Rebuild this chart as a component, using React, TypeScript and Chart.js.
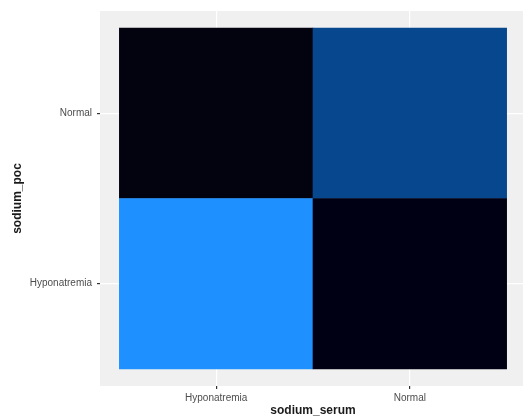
import React, { useEffect, useRef } from "react";
import { Chart, registerables } from "chart.js";

Chart.register(...registerables);

// Data
const serumCategories = ["Hyponatremia", "Normal"]; // x axis (sodium_serum)
const pocCategories = ["Hyponatremia", "Normal"]; // y axis (sodium_poc)
// cells: serum index, poc index, count
const cellSerum = [0, 1, 0, 1];
const cellPoc = [1, 1, 0, 0];
const cellCount = [1, 40, 95, 0];
// fill colour of each cell (from the reference gradient)
const cellColors = ["#030310", "#07478d", "#1e90ff", "#000015"];

const xTitle = "sodium_serum";
const yTitle = "sodium_poc";

const FONT = "'Liberation Sans', Arial, sans-serif";

export default function App() {
  const ref = useRef<HTMLCanvasElement | null>(null);

  useEffect(() => {
    if (!ref.current) return;
    const data = cellSerum.map((s, i) => ({
      x: s + 1,
      y: [cellPoc[i] + 0.5, cellPoc[i] + 1.5],
      count: cellCount[i],
    }));

    const panelBg = {
      id: "panelBg",
      beforeDraw(chart: any) {
        const { ctx, chartArea } = chart;
        ctx.save();
        ctx.fillStyle = "#F0F0F0";
        ctx.fillRect(
          chartArea.left,
          chartArea.top,
          chartArea.right - chartArea.left,
          chartArea.bottom - chartArea.top
        );
        ctx.restore();
      },
    };

    const chart = new Chart(ref.current, {
      type: "bar",
      data: {
        datasets: [
          {
            data: data as any,
            backgroundColor: cellColors,
            borderWidth: 0,
            barPercentage: 1,
            categoryPercentage: 1,
          },
        ],
      },
      options: {
        responsive: false,
        animation: false,
        layout: { padding: { top: 9, right: 0, left: 0, bottom: 0 } },
        plugins: { legend: { display: false }, tooltip: { enabled: false } },
        scales: {
          x: {
            type: "linear",
            min: 0.4,
            max: 2.6,
            offset: false,
            afterBuildTicks: (s: any) => {
              s.ticks = serumCategories.map((_, i) => ({ value: i + 1 }));
            },
            afterFit: (s: any) => {
              s.height = 33;
            },
            grid: {
              offset: false,
              color: "#FFFFFF",
              lineWidth: 1.2,
              tickColor: "#333333",
              tickLength: 3,
              drawTicks: true,
            },
            border: { display: false },
            ticks: {
              padding: 3,
              autoSkip: false,
              maxRotation: 0,
              color: "#4D4D4D",
              font: { family: FONT, size: 10 },
              callback: (v: any) => serumCategories[Number(v) - 1] ?? "",
            },
            title: {
              display: true,
              text: xTitle,
              color: "#1a1a1a",
              font: { family: FONT, size: 12, weight: "bold" },
              padding: { top: 0, bottom: 1 },
            },
          },
          y: {
            type: "linear",
            min: 0.4,
            max: 2.6,
            afterBuildTicks: (s: any) => {
              s.ticks = pocCategories.map((_, i) => ({ value: i + 1 }));
            },
            afterFit: (s: any) => {
              s.width = 100;
            },
            grid: {
              color: "#FFFFFF",
              lineWidth: 1.2,
              tickColor: "#333333",
              tickLength: 3,
              drawTicks: true,
            },
            border: { display: false },
            ticks: {
              padding: 5,
              autoSkip: false,
              color: "#4D4D4D",
              font: { family: FONT, size: 10 },
              callback: (v: any) => pocCategories[Number(v) - 1] ?? "",
            },
            title: {
              display: true,
              text: yTitle,
              color: "#1a1a1a",
              font: { family: FONT, size: 12, weight: "bold" },
              padding: { top: 10, bottom: 0 },
            },
          },
        },
      },
      plugins: [panelBg],
    });
    return () => chart.destroy();
  }, []);

  return (
    <div
      style={{
        position: "fixed",
        left: 0,
        top: 0,
        width: 523,
        height: 419,
        overflow: "hidden",
        background: "#FFFFFF",
      }}
    >
      <canvas ref={ref} width={526} height={419} style={{ width: 526, height: 419, display: "block" }} />
    </div>
  );
}
